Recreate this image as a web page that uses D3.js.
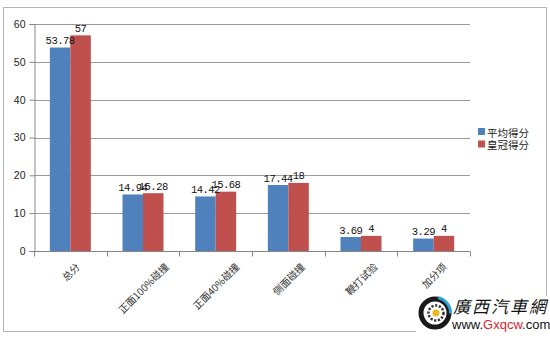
<!DOCTYPE html>
<html>
<head>
<meta charset="utf-8">
<script src="https://cdn.jsdelivr.net/npm/d3@7"></script>
<style>
  html, body { margin: 0; padding: 0; background: #fff; }
  svg { display: block; }
</style>
</head>
<body>
<svg id="chart" width="550" height="338"></svg>
<script>
// Test categories and scores
const categories = ["总分", "正面100%碰撞", "正面40%碰撞", "侧面碰撞", "鞭打试验", "加分项"];
const seriesNames = ["平均得分", "皇冠得分"];
const averageScores = [53.78, 14.94, 14.42, 17.44, 3.69, 3.29];
const crownScores = [57, 15.28, 15.68, 18, 4, 4];
const yTicks = [0, 10, 20, 30, 40, 50, 60];
const colors = ["#4F81BD", "#C0504D"];

const svg = d3.select("#chart");

// outer frame
svg.append("rect")
  .attr("x", 3.5).attr("y", 7.5)
  .attr("width", 543).attr("height", 324)
  .attr("fill", "#fff")
  .attr("stroke", "#b4b4b4").attr("stroke-width", 1);

const plot = { left: 34, right: 470, top: 24, bottom: 251 };

const x0 = d3.scaleBand().domain(categories).range([plot.left, plot.right]).padding(0);
const x1 = d3.scaleBand().domain(seriesNames).range([0, x0.bandwidth()])
  .paddingInner(0).paddingOuter(0.773);
const y = d3.scaleLinear().domain([0, 60]).range([plot.bottom, plot.top]);

// gridlines
svg.append("g")
  .selectAll("line")
  .data(yTicks.filter(t => t > 0))
  .join("line")
  .attr("x1", plot.left).attr("x2", plot.right)
  .attr("y1", d => Math.round(y(d)) + 0.5).attr("y2", d => Math.round(y(d)) + 0.5)
  .attr("stroke", "#9a9a9a").attr("stroke-width", 1.2);

// y axis
const yAxis = svg.append("g")
  .attr("transform", `translate(${plot.left + 0.5},0)`)
  .call(d3.axisLeft(y).tickValues(yTicks).tickSize(5).tickPadding(4).tickFormat(d3.format("d")));
yAxis.select(".domain").attr("stroke", "#868686");
yAxis.selectAll(".tick line").attr("stroke", "#868686");
yAxis.selectAll(".tick text")
  .attr("font-family", "Liberation Sans, Arial, sans-serif")
  .attr("font-size", 10.5).attr("fill", "#222");

// x axis with ticks at category boundaries
const xAxis = svg.append("g")
  .attr("transform", `translate(0,${Math.round(plot.bottom) + 0.5})`);
xAxis.append("line")
  .attr("x1", plot.left).attr("x2", plot.right)
  .attr("stroke", "#868686");
xAxis.selectAll("line.tk")
  .data(categories.map(c => x0(c)).concat([plot.right]))
  .join("line").attr("class", "tk")
  .attr("x1", d => Math.round(d) + 0.5).attr("x2", d => Math.round(d) + 0.5)
  .attr("y1", 0).attr("y2", 5)
  .attr("stroke", "#868686");

// bars
const rows = categories.map((c, i) => ({ cat: c, vals: [averageScores[i], crownScores[i]] }));
const groups = svg.append("g").selectAll("g")
  .data(rows).join("g")
  .attr("transform", d => `translate(${x0(d.cat)},0)`);

groups.selectAll("rect")
  .data(d => d.vals.map((v, j) => ({ s: seriesNames[j], v, j })))
  .join("rect")
  .attr("x", d => x1(d.s))
  .attr("width", x1.bandwidth())
  .attr("y", d => y(d.v))
  .attr("height", d => y(0) - y(d.v))
  .attr("fill", d => colors[d.j]);

// value labels
groups.selectAll("text")
  .data(d => d.vals.map((v, j) => ({ s: seriesNames[j], v, j })))
  .join("text")
  .attr("x", d => x1(d.s) + x1.bandwidth() / 2)
  .attr("y", d => y(d.v) - 3.5)
  .attr("text-anchor", "middle")
  .attr("font-family", "Liberation Mono, monospace")
  .attr("font-size", 10.5)
  .attr("letter-spacing", -0.5)
  .attr("fill", "#111")
  .text(d => d.v);

// rotated category labels, centred under each category
const fs = 10;
svg.append("g").selectAll("text")
  .data(categories).join("text")
  .attr("font-family", "Noto Sans CJK SC, sans-serif")
  .attr("font-size", fs)
  .attr("fill", "#333")
  .attr("text-anchor", "middle")
  .attr("dominant-baseline", "central")
  .text(d => d)
  .each(function(d) {
    const L = this.getComputedTextLength();
    const cx = x0(d) + x0.bandwidth() / 2;
    const cy = 261 + (L + fs) * 0.3536;
    d3.select(this).attr("transform", `translate(${cx},${cy}) rotate(-45)`);
  });

// legend
const legend = svg.append("g").attr("transform", "translate(478,128)");
seriesNames.forEach((name, i) => {
  const g = legend.append("g").attr("transform", `translate(0,${i * 12.5})`);
  g.append("rect").attr("x", 0).attr("y", 0).attr("width", 7).attr("height", 7).attr("fill", colors[i]);
  g.append("text").attr("x", 9).attr("y", 4).attr("dominant-baseline", "central")
    .attr("font-family", "Noto Sans CJK SC, sans-serif").attr("font-size", 10.5)
    .attr("fill", "#222").text(name);
});

// site mark in the lower right corner
const mark = svg.append("g");
mark.append("rect").attr("x", 416).attr("y", 296).attr("width", 133).attr("height", 36).attr("fill", "#fff");
mark.append("circle").attr("cx", 435).attr("cy", 313).attr("r", 14)
  .attr("fill", "none").attr("stroke", "#1a1a1a").attr("stroke-width", 5);
mark.append("path")
  .attr("d", d3.arc()({ innerRadius: 14, outerRadius: 17, startAngle: 0.2, endAngle: 1.6 }))
  .attr("transform", "translate(435,313)").attr("fill", "#2f9fd4");
mark.append("circle").attr("cx", 436).attr("cy", 313).attr("r", 7.5)
  .attr("fill", "none").attr("stroke", "#333").attr("stroke-width", 2.5)
  .attr("stroke-dasharray", "2.2 1.6");
mark.append("circle").attr("cx", 436).attr("cy", 313).attr("r", 3.5).attr("fill", "#e8b820");
mark.append("text").attr("x", 453).attr("y", 313)
  .attr("font-family", "Noto Sans CJK TC, sans-serif").attr("font-size", 17)
  .attr("font-style", "italic").attr("fill", "#111").attr("letter-spacing", 2)
  .text("廣西汽車網");
const url = mark.append("text").attr("x", 452).attr("y", 329)
  .attr("font-family", "Liberation Sans, Arial, sans-serif").attr("font-size", 13)
  .attr("fill", "#111");
url.append("tspan").text("www.");
url.append("tspan").attr("fill", "#d9262c").text("Gxqcw");
url.append("tspan").text(".com");
</script>
</body>
</html>
